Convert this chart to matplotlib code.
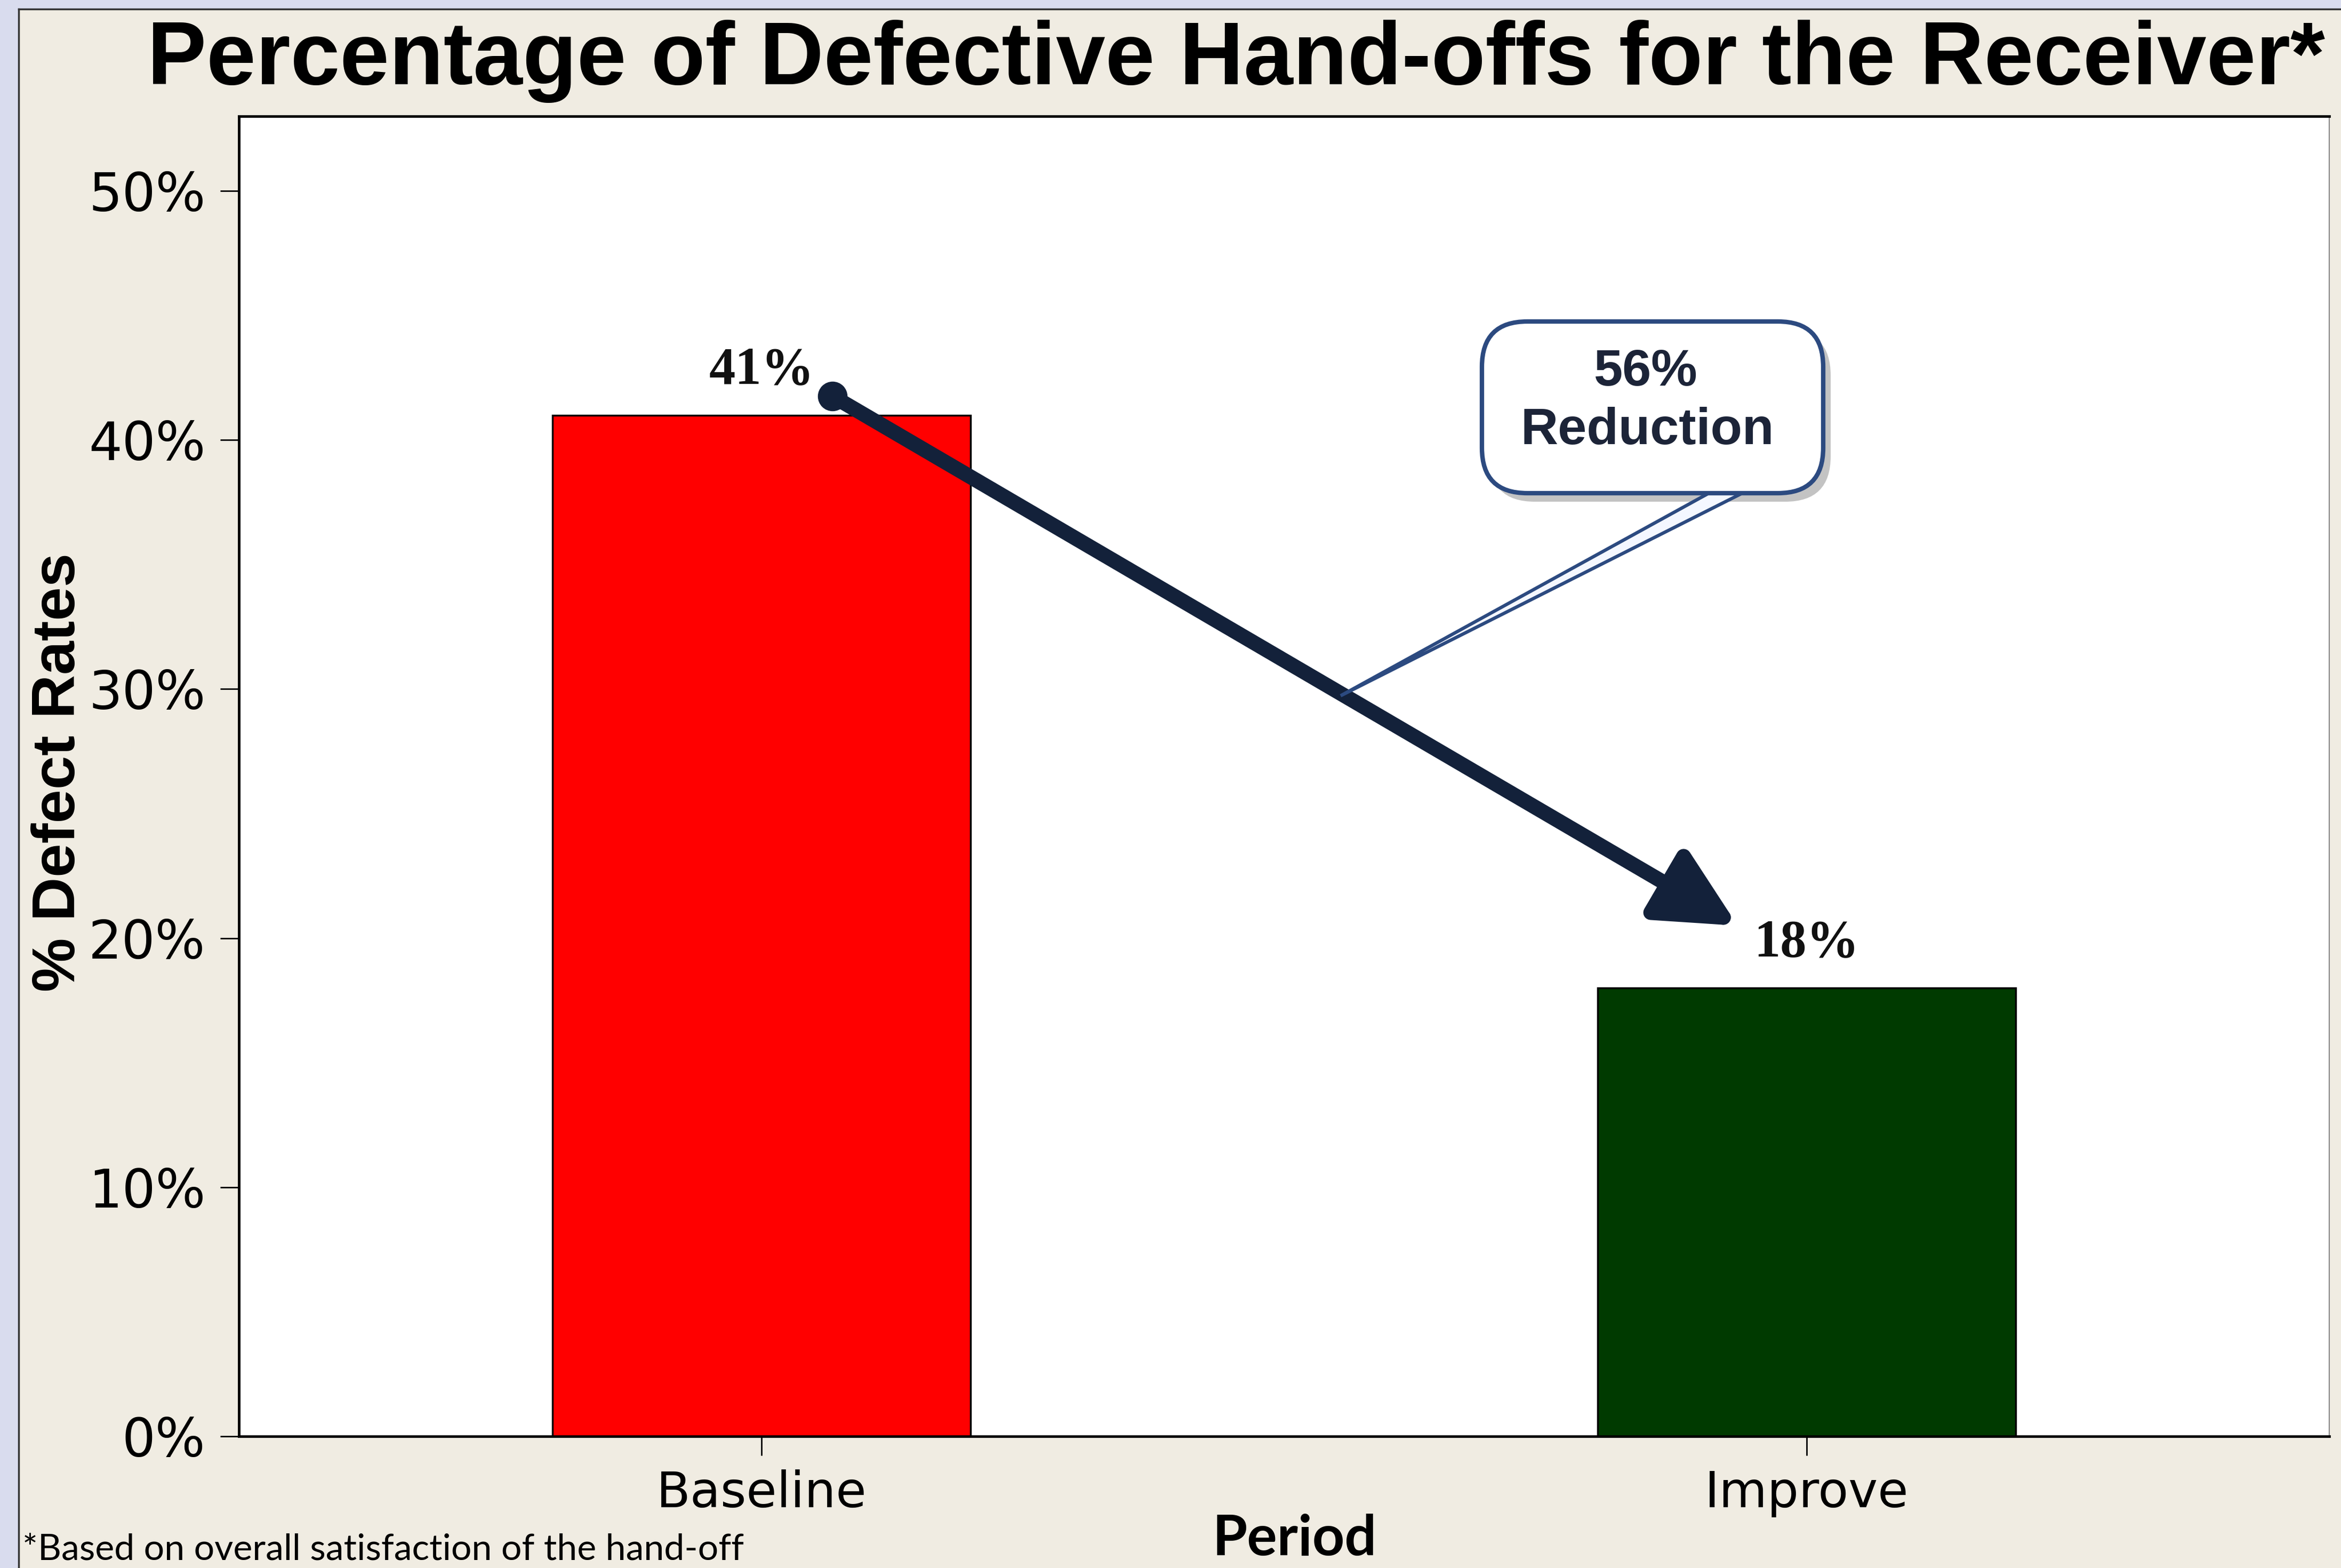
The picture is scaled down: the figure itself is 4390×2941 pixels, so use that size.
import numpy as np
import matplotlib
matplotlib.use('Agg')
import matplotlib.pyplot as plt
from matplotlib.patches import FancyBboxPatch, Rectangle, Polygon
from matplotlib.lines import Line2D

# ---- data ----
categories = ['Baseline', 'Improve']
defect_rates = [41, 18]
bar_labels = ['41%', '18%']
bar_colors = ['#ff0000', '#003a00']
yticks = [0, 10, 20, 30, 40, 50]
ytick_labels = ['0%', '10%', '20%', '30%', '40%', '50%']
callout_lines = ['56%', 'Reduction']
title = 'Percentage of Defective Hand-offs for the Receiver*'
ylabel = '% Defect Rates'
xlabel = 'Period'
footnote = '*Based on overall satisfaction of the hand-off'

W, H = 4390, 2941
dpi = 100
fig = plt.figure(figsize=(W / dpi, H / dpi), dpi=dpi, facecolor='#f0ece2')

# slide frame decoration
lav = '#d9dcee'
fig.patches.append(Rectangle((0, 0), 35 / W, 1, transform=fig.transFigure,
                             facecolor=lav, edgecolor='none', zorder=-2))
fig.patches.append(Rectangle((0, 1 - 17 / H), 1, 17 / H, transform=fig.transFigure,
                             facecolor=lav, edgecolor='none', zorder=-2))
fig.add_artist(Line2D([35 / W, 35 / W], [0, 1 - 17 / H], color='#333333', lw=2.5,
                      transform=fig.transFigure, zorder=-1))
fig.add_artist(Line2D([35 / W, 1], [1 - 17 / H, 1 - 17 / H], color='#333333', lw=2.5,
                      transform=fig.transFigure, zorder=-1))

ax = fig.add_axes([448 / W, 1 - 2694 / H, 3920 / W, 2476 / H])
ax.set_facecolor('white')
x = np.arange(len(categories))
ax.bar(x, defect_rates, width=0.4, color=bar_colors, edgecolor='black',
       linewidth=2.5, zorder=2)
ax.set_xlim(-0.5, 1.5)
ax.set_ylim(0, 53)
ax.set_xticks(x, categories)
ax.set_yticks(yticks, ytick_labels)
ax.tick_params(axis='y', length=25, width=2, pad=20, labelsize=71)
ax.tick_params(axis='x', length=26, width=2, pad=19, labelsize=67)
for lab in ax.get_yticklabels() + ax.get_xticklabels():
    lab.set_family('DejaVu Sans')
for s in ['left', 'bottom', 'top']:
    ax.spines[s].set_linewidth(3.5)
    ax.spines[s].set_color('black')
ax.spines['right'].set_linewidth(1.5)
ax.spines['right'].set_color('#888888')

# value labels
for xi, v, lab in zip(x, defect_rates, bar_labels):
    ax.annotate(lab, (xi, v), xytext=(0, 43), textcoords='offset points',
                ha='center', va='baseline', fontsize=71, fontweight='bold',
                family='Liberation Serif', color='#111111', zorder=5)

# reduction arrow from first bar to second bar
start = (x[0] + 0.068, defect_rates[0] + 0.76)
end = (x[1] - 0.066, defect_rates[1] + 2.5)
ax.annotate('', xy=end, xytext=start,
            arrowprops=dict(arrowstyle='-|>,head_length=88,head_width=44',
                            mutation_scale=1, lw=20, color='#13213a',
                            shrinkA=0, shrinkB=0), zorder=6)
ax.plot([start[0]], [start[1]], 'o', ms=39, color='#13213a', zorder=7)

# callout box (in inches)
tr = fig.dpi_scale_trans
bx, by, bw, bh = 27.79, 20.16, 6.40, 3.22
shadow = FancyBboxPatch((bx + 0.14, by - 0.16), bw, bh,
                        boxstyle='round,pad=0,rounding_size=0.85', transform=tr,
                        facecolor='#7a7a7a', edgecolor='none', alpha=0.45, zorder=8)
pointer = Polygon([(25.14, 16.36), (32.30, 20.30), (32.95, 20.30)], closed=True,
                  transform=tr, facecolor='#f4f7ff', edgecolor='#2c4a80', lw=4.5, zorder=9)
box = FancyBboxPatch((bx, by), bw, bh, boxstyle='round,pad=0,rounding_size=0.85',
                     transform=tr, facecolor='white', edgecolor='#2c4a80', lw=6, zorder=10)
fig.patches.extend([shadow, pointer, box])
fig.text(30.86 / (W / dpi), 22.18 / (H / dpi), callout_lines[0], ha='center', va='baseline',
         fontsize=70, fontweight='bold', family='Liberation Sans', color='#1c2438', zorder=11)
fig.text(30.89 / (W / dpi), 21.08 / (H / dpi), callout_lines[1], ha='center', va='baseline',
         fontsize=70, fontweight='bold', family='Liberation Sans', color='#1c2438', zorder=11)

# titles / labels
fig.text(2318 / W, 1 - 158 / H, title, ha='center', va='baseline', fontsize=120,
         fontweight='bold', family='Liberation Sans', color='black')
ax.set_ylabel(ylabel, fontsize=82, fontweight='bold', family='Liberation Sans')
ax.yaxis.set_label_coords(-0.086, 0.503)
ax.yaxis.label.set_va('center')
ax.set_xlabel(xlabel, fontsize=76, fontweight='bold', family='Lato')
ax.xaxis.set_label_coords(0.505, -0.078)
ax.xaxis.label.set_va('center')
fig.text(42 / W, 16 / H, footnote, ha='left', va='baseline', fontsize=49,
         family='Lato', color='black')

fig.savefig('out.png', dpi=dpi, facecolor=fig.get_facecolor())
